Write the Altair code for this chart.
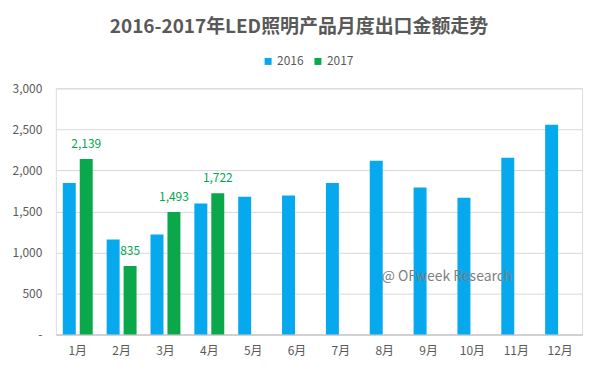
import altair as alt
import pandas as pd

months = ["1月", "2月", "3月", "4月", "5月", "6月", "7月", "8月", "9月", "10月", "11月", "12月"]
v2016 = [1847, 1158, 1219, 1595, 1680, 1693, 1847, 2118, 1790, 1668, 2154, 2555]
v2017 = [2139, 835, 1493, 1722]
series = ["2016", "2017"]
colors = ["#06A8EE", "#0AA84A"]
title_text = "2016-2017年LED照明产品月度出口金额走势"
watermark = "@ OFweek Research"

rows = []
for m, v in zip(months, v2016):
    rows.append({"month": m, "year": "2016", "value": v})
for m, v in zip(months, v2017):
    rows.append({"month": m, "year": "2017", "value": v})
df = pd.DataFrame(rows)
df17 = df[df["year"] == "2017"]

FONT = "Noto Sans CJK SC"

x = alt.X("month:N", sort=months, title=None,
          scale=alt.Scale(paddingInner=0.318, paddingOuter=0.159),
          axis=alt.Axis(labelAngle=0, ticks=False, domainColor="#BFBFBF",
                        labelColor="#595959", labelFontSize=12, labelPadding=11,
                        labelFont=FONT))
xo = alt.XOffset("year:N", scale=alt.Scale(domain=series, paddingInner=0.235, paddingOuter=0))
y = alt.Y("value:Q", title=None,
          scale=alt.Scale(domain=[0, 3000], nice=False),
          axis=alt.Axis(values=[0, 500, 1000, 1500, 2000, 2500, 3000],
                        labelExpr="datum.value == 0 ? '-' : format(datum.value, ',')",
                        ticks=False, domain=False, gridColor="#D9D9D9",
                        labelColor="#595959", labelFontSize=12, labelPadding=14,
                        labelFont=FONT))

bars = alt.Chart(df).mark_bar().encode(
    x=x, xOffset=xo, y=y,
    color=alt.Color("year:N", scale=alt.Scale(domain=series, range=colors),
                    legend=alt.Legend(title=None, orient="none", direction="horizontal",
                                      legendX=207, legendY=-33, symbolType="square",
                                      symbolSize=49, symbolStrokeWidth=0,
                                      labelFontSize=12, labelColor="#595959",
                                      labelFont=FONT, columnPadding=8, labelOffset=3)),
)

labels = alt.Chart(df17).mark_text(dy=-8, baseline="bottom", fontSize=12,
                                   color="#00A650", font=FONT).encode(
    x=alt.X("month:N", sort=months),
    xOffset=xo,
    y="value:Q",
    text=alt.Text("value:Q", format=","),
)

wm = alt.Chart(pd.DataFrame({"t": [watermark]})).mark_text(
    align="left", baseline="middle", fontSize=14, color="#7F7F7F", font=FONT
).encode(x=alt.value(327), y=alt.value(189), text="t:N")

chart = alt.layer(bars, labels, wm).properties(
    width=528, height=247,
    title=alt.TitleParams(title_text, fontSize=19, fontWeight="bold", color="#595959",
                          font=FONT, anchor="middle", dx=-20, offset=19),
    autosize=alt.AutoSizeParams(type="none"),
    padding={"left": 48, "top": 80, "right": 10, "bottom": 30},
).configure_view(stroke=None).configure(background="white")

chart.save("out.html", embed_options={"renderer": "svg", "actions": False})
